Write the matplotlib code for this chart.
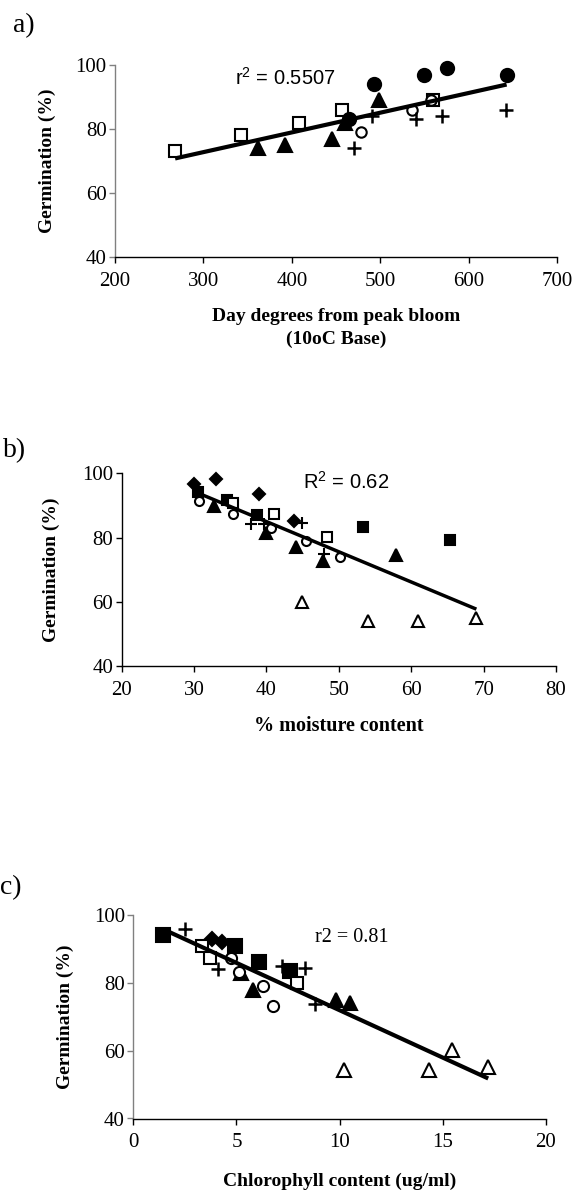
import matplotlib
matplotlib.use("Agg")
import matplotlib.pyplot as plt

SERIF = "Liberation Serif"
SANS = "Liberation Sans"

plt.rcParams["mathtext.fontset"] = "custom"
plt.rcParams["mathtext.rm"] = SANS

# a) day degrees from peak bloom vs germination
a_open_sq_x = [268, 343, 408, 457, 560]
a_open_sq_y = [73, 78, 82, 86, 89]
a_tri_x = [362, 392, 445, 460, 499]
a_tri_y = [74, 75, 77, 82, 89]
a_dot_x = [465, 493, 549, 575, 643]
a_dot_y = [83, 94, 97, 99, 97]
a_circ_x = [478, 536, 557]
a_circ_y = [79, 86, 89]
a_plus_x = [470, 491, 540, 570, 642]
a_plus_y = [74, 84, 83, 84, 86]
a_fit_x = [268, 643]
a_fit_y = [70.8, 93.9]

# b) moisture content vs germination
b_dia_x = [30.0, 33.0, 38.9, 43.8]
b_dia_y = [96.6, 98.1, 93.6, 85.3]
b_sq_x = [30.5, 34.6, 38.7, 53.3, 65.3]
b_sq_y = [94.3, 91.7, 87.0, 83.2, 79.2]
b_open_sq_x = [35.4, 41.0, 48.4]
b_open_sq_y = [90.9, 87.3, 80.3]
b_tri_x = [32.7, 39.9, 44.1, 47.8, 57.9]
b_tri_y = [89.8, 81.5, 77.0, 72.8, 74.6]
b_circ_x = [30.7, 35.4, 40.6, 45.5, 50.2]
b_circ_y = [91.4, 87.2, 83.1, 79.0, 73.8]
b_plus_x = [37.9, 39.6, 44.9, 47.9]
b_plus_y = [84.1, 84.1, 84.6, 74.8]
b_open_tri_x = [44.9, 54.0, 61.0, 69.0]
b_open_tri_y = [60.0, 54.1, 54.1, 54.8]
b_fit_x = [30.6, 69.0]
b_fit_y = [93.8, 57.7]

# c) chlorophyll content vs germination
c_sq_x = [1.45, 4.95, 6.1, 7.6]
c_sq_y = [94, 91, 86, 83.5]
c_dia_x = [3.8, 4.3]
c_dia_y = [93, 92]
c_tri_x = [5.2, 5.8, 9.8, 10.5]
c_tri_y = [83, 78, 75, 74]
c_circ_x = [4.75, 5.1, 6.3, 6.75]
c_circ_y = [87.2, 83.3, 79.1, 73.2]
c_open_sq_x = [3.35, 3.7, 7.95]
c_open_sq_y = [90.9, 87.2, 80.0]
c_plus_x = [2.5, 4.1, 7.2, 8.3, 8.8]
c_plus_y = [95.8, 84.0, 85.0, 84.3, 73.9]
c_open_tri_x = [10.2, 14.35, 15.45, 17.2]
c_open_tri_y = [54.3, 54.3, 60.2, 55.1]
c_fit_x = [1.45, 17.2]
c_fit_y = [95.8, 51.8]

W, H = 576, 1196


def make_axes(fig, left, top, right, bottom):
  return fig.add_axes([left / W, 1 - bottom / H, (right - left) / W, (bottom - top) / H])


def style_axes(ax, xlim, xticks, left_color):
  ax.set_xlim(*xlim)
  ax.set_ylim(40, 100)
  ax.set_xticks(xticks)
  ax.set_yticks([40, 60, 80, 100])
  for s in ["top", "right"]:
    ax.spines[s].set_visible(False)
  ax.spines["left"].set_color(left_color)
  ax.spines["bottom"].set_color("black")
  ax.spines["left"].set_linewidth(1.0)
  ax.spines["bottom"].set_linewidth(1.0)
  ax.tick_params(axis="x", direction="out", length=4.5, width=1.0, pad=6, labelsize=15)
  ax.tick_params(axis="y", direction="out", length=4, width=1.0, pad=2, labelsize=15,
                 color=left_color)
  for lab in ax.get_xticklabels() + ax.get_yticklabels():
    lab.set_fontfamily(SERIF)
  ax.set_ylabel("Germination (%)", fontfamily=SERIF, fontweight="bold", fontsize=14,
                va="center")


def pts(ax, x, y, marker, ms, filled=True, mew=1.5):
  ax.plot(x, y, linestyle="none", marker=marker, markersize=ms,
          markerfacecolor="black" if filled else "white",
          markeredgecolor="black", markeredgewidth=mew, zorder=3, clip_on=False)


fig = plt.figure(figsize=(W / 100, H / 100), dpi=100)

# ---- panel a
ax = make_axes(fig, 115, 65, 557, 257)
style_axes(ax, (200, 700), [200, 300, 400, 500, 600, 700], "#808080")
pts(ax, a_open_sq_x, a_open_sq_y, "s", 8.5, filled=False)
pts(ax, a_tri_x, a_tri_y, "^", 9.5)
pts(ax, a_dot_x, a_dot_y, "o", 9.5)
pts(ax, a_circ_x, a_circ_y, "o", 7.5, filled=False)
pts(ax, a_plus_x, a_plus_y, "+", 10, mew=1.8)
ax.plot(a_fit_x, a_fit_y, color="black", lw=3, zorder=4, solid_capstyle="butt")
ax.text(336, 95.9, r"r$^{2}$ = 0.5507", fontfamily=SANS, fontsize=14.5, va="center",
        ha="left")
ax.set_xlabel("Day degrees from peak bloom\n(10oC Base)", fontfamily=SERIF,
              fontweight="bold", fontsize=14, va="center", linespacing=1.4)
ax.xaxis.set_label_coords(0.5, -0.37)
ax.yaxis.set_label_coords(-0.152, 0.5)
fig.text(13 / W, 1 - 26 / H, "a)", fontfamily=SERIF, fontsize=20, va="center", ha="left")

# ---- panel b
ax = make_axes(fig, 121.7, 473.3, 556, 666)
style_axes(ax, (20, 80), [20, 30, 40, 50, 60, 70, 80], "black")
pts(ax, b_dia_x, b_dia_y, "D", 6.5)
pts(ax, b_sq_x, b_sq_y, "s", 7)
pts(ax, b_open_sq_x, b_open_sq_y, "s", 7, filled=False)
pts(ax, b_tri_x, b_tri_y, "^", 8)
pts(ax, b_circ_x, b_circ_y, "o", 6.5, filled=False)
pts(ax, b_plus_x, b_plus_y, "+", 9, mew=1.5)
pts(ax, b_open_tri_x, b_open_tri_y, "^", 8.5, filled=False)
ax.plot(b_fit_x, b_fit_y, color="black", lw=2.5, zorder=4, solid_capstyle="butt")
ax.text(45.1, 97.3, r"R$^{2}$ = 0.62", fontfamily=SANS, fontsize=14.5, va="center",
        ha="left")
ax.set_xlabel("% moisture content", fontfamily=SERIF, fontweight="bold", fontsize=14.5,
              va="center")
ax.xaxis.set_label_coords(0.5, -0.31)
ax.yaxis.set_label_coords(-0.163, 0.5)
fig.text(3 / W, 1 - 451 / H, "b)", fontfamily=SERIF, fontsize=20, va="center", ha="left")

# ---- panel c
ax = make_axes(fig, 133.3, 915, 546, 1118.5)
style_axes(ax, (0, 20), [0, 5, 10, 15, 20], "#808080")
pts(ax, c_sq_x, c_sq_y, "s", 9.5)
pts(ax, c_dia_x, c_dia_y, "D", 7.5)
pts(ax, c_tri_x, c_tri_y, "^", 9.5)
pts(ax, c_circ_x, c_circ_y, "o", 8, filled=False)
pts(ax, c_open_sq_x, c_open_sq_y, "s", 8.5, filled=False)
pts(ax, c_plus_x, c_plus_y, "+", 10, mew=1.8)
pts(ax, c_open_tri_x, c_open_tri_y, "^", 9.5, filled=False)
ax.plot(c_fit_x, c_fit_y, color="black", lw=3, zorder=4, solid_capstyle="butt")
ax.text(8.8, 93.5, "r2 = 0.81", fontfamily=SERIF, fontsize=14.5, va="center", ha="left")
ax.set_xlabel("Chlorophyll content (ug/ml)", fontfamily=SERIF, fontweight="bold",
              fontsize=14, va="center")
ax.xaxis.set_label_coords(0.5, -0.31)
ax.yaxis.set_label_coords(-0.165, 0.5)
fig.text(0 / W, 1 - 888 / H, "c)", fontfamily=SERIF, fontsize=20, va="center", ha="left")

fig.savefig("out.png", dpi=100)
